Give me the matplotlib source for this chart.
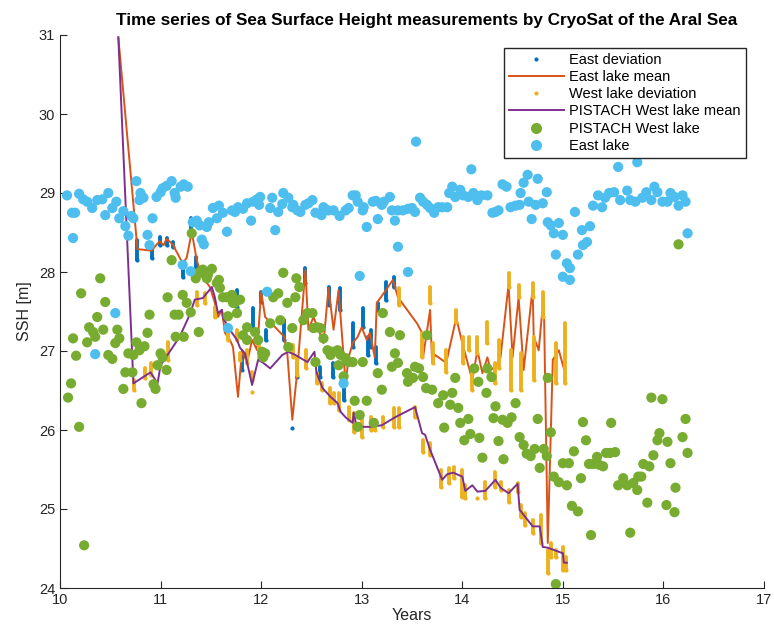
import matplotlib
matplotlib.use("Agg")
import matplotlib.pyplot as plt
from matplotlib.lines import Line2D

plt.rcParams['font.family'] = ['Liberation Sans', 'DejaVu Sans']

# ---------------- data ----------------
east_mean_t = [10.58, 10.77, 10.91, 10.99, 11.03, 11.06, 11.12, 11.22, 11.26, 11.31, 11.36, 11.41,
               11.44, 11.49, 11.54, 11.57, 11.61, 11.64, 11.69, 11.72, 11.77, 11.81, 11.86, 11.91,
               11.96, 12.00, 12.04, 12.07, 12.14, 12.23, 12.26, 12.31, 12.36, 12.44, 12.47, 12.52,
               12.57, 12.62, 12.67, 12.72, 12.77, 12.84, 12.87, 12.91, 12.96, 13.00, 13.05, 13.08,
               13.13, 13.15, 13.23, 13.31, 13.36, 13.55, 13.60, 13.61, 13.68, 13.70, 13.73, 13.84,
               13.94, 14.00, 14.10, 14.15, 14.20, 14.25, 14.28, 14.33, 14.38, 14.46, 14.50, 14.56,
               14.61, 14.70, 14.71, 14.76, 14.81, 14.85, 14.90, 14.96, 15.02]
east_mean_h = [30.97, 28.29, 28.27, 28.39, 28.34, 28.42, 28.35, 28.11, 28.18, 28.51, 28.15, 27.94,
               27.90, 27.81, 27.61, 27.43, 27.52, 27.23, 27.14, 27.05, 26.42, 27.01, 26.85, 27.14,
               27.01, 27.75, 27.43, 27.39, 27.30, 27.18, 26.97, 26.13, 26.76, 28.03, 27.27, 27.43,
               27.27, 27.10, 27.80, 27.27, 27.77, 26.59, 26.92, 27.10, 27.18, 27.30, 27.14, 27.23,
               26.92, 27.61, 27.75, 27.90, 27.68, 27.35, 27.23, 26.92, 27.52, 26.85, 26.95, 26.85,
               27.42, 27.10, 26.63, 27.01, 26.72, 26.92, 26.76, 26.80, 26.92, 27.84, 26.92, 27.68,
               26.76, 27.80, 27.18, 27.01, 27.71, 24.57, 26.89, 27.01, 26.73]

west_mean_t = [10.58, 10.73, 10.90, 10.97, 11.00, 11.09, 11.19, 11.29, 11.34, 11.42, 11.51, 11.54,
               11.57, 11.61, 11.62, 11.71, 11.76, 11.79, 11.84, 11.91, 11.97, 12.02, 12.09, 12.21,
               12.27, 12.34, 12.42, 12.46, 12.53, 12.55, 12.61, 12.69, 12.76, 12.79, 12.84, 12.91,
               12.92, 12.95, 13.08, 13.20, 13.33, 13.53, 13.60, 13.63, 13.68, 13.80, 13.85, 13.91,
               14.00, 14.03, 14.10, 14.15, 14.23, 14.33, 14.38, 14.46, 14.55, 14.57, 14.70, 14.77,
               14.80, 14.85, 15.00, 15.01, 15.04]
west_mean_h = [30.97, 26.59, 26.73, 26.59, 26.82, 26.99, 27.18, 27.46, 27.65, 27.67, 27.81, 27.68,
               27.48, 27.52, 27.42, 27.23, 27.14, 27.04, 26.97, 26.57, 26.89, 26.85, 26.78, 26.95,
               26.99, 26.95, 26.89, 26.86, 26.99, 26.73, 26.53, 26.42, 26.34, 26.23, 26.16, 26.09,
               26.22, 26.04, 26.04, 26.06, 26.16, 26.29, 25.96, 25.94, 25.75, 25.37, 25.44, 25.46,
               25.41, 25.23, 25.30, 25.22, 25.23, 25.37, 25.27, 25.20, 25.32, 24.99, 24.78, 24.78,
               24.52, 24.51, 24.44, 24.32, 24.32]

# East deviation: time, low, high
east_dev_t = [10.77, 10.91, 10.99, 11.06, 11.12, 11.22, 11.30, 11.35, 11.76, 11.81, 11.92, 12.00,
              12.05, 12.23, 12.31, 12.36, 12.44, 12.59, 12.67, 12.71, 12.78, 12.82, 12.91, 13.01,
              13.06, 13.09, 13.14, 13.16, 13.24, 13.32]
east_dev_lo = [28.15, 28.18, 28.34, 28.34, 28.32, 27.94, 28.53, 28.06, 27.56, 26.76, 27.27, 27.62,
               27.14, 27.14, 26.03, 26.67, 27.86, 26.67, 27.58, 26.67, 27.52, 26.38, 27.05, 27.30,
               26.95, 27.05, 26.85, 27.52, 27.65, 27.81]
east_dev_hi = [28.41, 28.32, 28.44, 28.43, 28.38, 28.11, 28.68, 28.19, 27.77, 26.97, 27.54, 27.75,
               27.27, 27.39, 26.03, 26.85, 28.05, 26.80, 27.81, 26.85, 27.80, 26.57, 27.35, 27.54,
               27.18, 27.27, 27.05, 27.61, 27.87, 27.94]

# West lake deviation: time, low, high
west_dev_t = [10.74, 10.85, 10.90, 11.07, 11.36, 11.44, 11.54, 11.67, 11.76, 11.79, 11.86, 11.91,
              11.91, 11.98, 12.32, 12.36, 12.45, 12.56, 12.61, 12.68, 12.72, 12.77, 12.87, 12.92,
              13.00, 13.09, 13.13, 13.21, 13.32, 13.37, 13.37, 13.53, 13.60, 13.61, 13.68, 13.68,
              13.71, 13.79, 13.84, 13.87, 13.92, 13.94, 14.00, 14.01, 14.03, 14.07, 14.10, 14.15,
              14.15, 14.23, 14.25, 14.33, 14.33, 14.37, 14.38, 14.46, 14.46, 14.48, 14.55, 14.56,
              14.58, 14.58, 14.62, 14.70, 14.70, 14.71, 14.78, 14.80, 14.85, 14.88, 14.93, 14.93,
              15.00, 15.03, 15.02]
west_dev_lo = [26.51, 26.66, 26.70, 26.89, 27.58, 27.61, 27.43, 27.14, 27.14, 26.89, 26.85, 26.63,
               26.48, 26.92, 26.92, 26.70, 26.78, 26.59, 26.51, 26.34, 26.34, 26.25, 26.13, 25.97,
               25.91, 26.00, 26.00, 26.04, 26.04, 26.04, 27.58, 26.16, 26.92, 25.72, 25.68, 27.61,
               26.85, 25.28, 26.73, 25.33, 25.39, 27.37, 25.15, 26.85, 25.14, 27.01, 26.51, 26.97,
               25.14, 25.14, 27.10, 26.59, 25.28, 26.78, 25.24, 27.81, 25.09, 26.51, 25.22, 27.68,
               26.51, 24.90, 24.80, 27.68, 24.70, 26.63, 24.57, 27.43, 24.19, 24.39, 24.39, 26.59,
               24.23, 24.23, 26.59]
west_dev_hi = [26.63, 26.78, 26.85, 27.11, 27.75, 27.73, 27.56, 27.23, 27.27, 26.97, 27.01, 26.73,
               26.48, 27.14, 27.08, 26.92, 27.01, 26.72, 26.59, 26.53, 26.47, 26.47, 26.29, 26.22,
               26.16, 26.16, 26.13, 26.16, 26.28, 26.28, 27.80, 26.29, 27.23, 25.87, 25.84, 27.81,
               27.10, 25.49, 27.01, 25.52, 25.53, 27.52, 25.49, 27.18, 25.30, 27.18, 26.72, 27.18,
               25.14, 25.34, 27.37, 26.85, 25.47, 27.14, 25.34, 27.99, 25.24, 27.01, 25.33, 27.84,
               26.97, 25.05, 24.95, 27.86, 24.86, 27.18, 24.92, 27.75, 24.48, 24.57, 24.48, 27.10,
               24.52, 24.39, 27.35]

# PISTACH West lake points
west_pts_t = [10.08, 10.11, 10.13, 10.16, 10.19, 10.24, 10.21, 10.27, 10.29, 10.33, 10.35, 10.37,
              10.40, 10.43, 10.45, 10.48, 10.52, 10.55, 10.57, 10.59, 10.63, 10.65, 10.68, 10.72,
              10.73, 10.76, 10.79, 10.81, 10.84, 10.87, 10.89, 10.93, 10.95, 10.97, 11.00, 11.02,
              11.06, 11.07, 11.11, 11.14, 11.18, 11.15, 11.23, 11.22, 11.26, 11.30, 11.31, 11.35,
              11.38, 11.39, 11.42, 11.46, 11.47, 11.51, 11.56, 11.58, 11.59, 11.62, 11.66, 11.69,
              11.71, 11.72, 11.74, 11.76, 11.79, 11.67, 11.82, 11.86, 11.86, 11.94, 11.97, 12.01,
              12.04, 12.02, 12.09, 12.12, 12.17, 12.19, 12.22, 12.26, 12.27, 12.31, 12.34, 12.35,
              12.38, 12.42, 12.46, 12.51, 12.52, 12.56, 12.59, 12.62, 12.54, 12.66, 12.71, 12.76,
              12.69, 12.79, 12.84, 12.87, 12.91, 13.01, 12.77, 12.82, 12.93, 13.05, 12.98, 12.96,
              13.12, 13.16, 13.20, 13.21, 13.28, 13.38, 13.33, 13.36, 13.30, 13.45, 13.53, 13.57,
              13.51, 13.46, 13.61, 13.64, 13.70, 13.65, 13.76, 13.81, 13.88, 13.90, 13.93, 13.96,
              13.82, 13.98, 14.06, 14.02, 14.08, 14.17, 14.12, 14.16, 14.25, 14.29, 14.24, 14.33,
              14.31, 14.40, 14.45, 14.49, 14.53, 14.36, 14.57, 14.61, 14.20, 14.41, 14.64, 14.68,
              14.72, 14.75, 14.81, 14.84, 14.77, 14.85, 14.88, 14.91, 14.96, 15.04, 15.00, 15.06,
              15.09, 15.15, 15.11, 15.18, 15.20, 15.23, 15.28, 15.26, 15.30, 15.34, 15.36, 15.40,
              15.43, 15.47, 15.52, 15.48, 15.55, 15.60, 15.64, 15.70, 15.74, 15.67, 15.75, 15.78,
              15.80, 15.86, 15.84, 15.90, 15.94, 15.96, 16.04, 16.07, 16.12, 16.03, 16.11, 15.88,
              15.99, 16.19, 16.22, 16.24, 14.93, 16.15]
west_pts_h = [26.41, 26.59, 27.16, 26.94, 26.04, 24.54, 27.73, 27.11, 27.30, 27.24, 27.18, 27.43,
              27.92, 27.27, 27.62, 26.95, 26.90, 27.10, 27.27, 27.16, 26.52, 26.73, 26.97, 26.73,
              26.95, 27.11, 27.01, 26.34, 27.06, 27.23, 27.46, 26.58, 26.52, 26.82, 26.97, 26.92,
              26.76, 27.68, 28.15, 27.46, 27.46, 27.18, 27.18, 27.71, 27.61, 27.49, 28.49, 27.92,
              27.24, 28.00, 28.03, 27.92, 27.96, 28.04, 27.86, 27.90, 27.80, 27.68, 27.68, 27.68,
              27.71, 27.61, 27.61, 27.48, 27.65, 27.44, 27.20, 27.14, 27.30, 27.24, 27.14, 26.99,
              26.97, 26.92, 27.35, 27.68, 27.73, 27.39, 27.99, 27.61, 27.05, 27.29, 27.68, 27.92,
              27.81, 27.39, 27.48, 27.48, 27.29, 27.30, 27.29, 27.16, 26.86, 27.01, 26.99, 27.01,
              26.95, 26.95, 26.91, 26.86, 26.86, 26.86, 26.82, 26.68, 26.37, 26.37, 26.19, 26.04,
              26.09, 26.72, 26.51, 27.48, 27.24, 27.20, 26.97, 26.85, 26.80, 26.72, 26.80, 26.78,
              26.66, 26.61, 26.67, 26.53, 26.51, 27.20, 26.34, 26.44, 26.32, 26.47, 26.66, 26.28,
              26.03, 26.09, 26.14, 25.87, 25.95, 25.90, 26.78, 26.61, 26.78, 26.67, 26.47, 26.30,
              26.15, 26.13, 26.09, 26.16, 26.34, 25.86, 25.91, 25.81, 25.65, 25.63, 25.70, 25.67,
              25.76, 26.14, 25.76, 25.67, 25.52, 26.66, 25.97, 25.41, 25.34, 25.30, 25.58, 25.58,
              25.04, 24.97, 25.73, 25.39, 26.10, 25.87, 24.67, 25.57, 25.57, 25.66, 25.56, 25.54,
              25.71, 25.71, 25.72, 26.09, 25.30, 25.39, 25.30, 25.33, 25.24, 24.70, 25.41, 25.41,
              25.57, 25.54, 25.08, 25.68, 25.87, 25.96, 25.85, 25.58, 25.27, 25.05, 24.96, 26.41,
              26.39, 25.91, 26.14, 25.71, 24.05, 28.35]

# East lake points
east_pts_t = [10.07, 10.12, 10.15, 10.13, 10.19, 10.23, 10.27, 10.32, 10.37, 10.42, 10.45, 10.48,
              10.52, 10.56, 10.59, 10.63, 10.65, 10.68, 10.71, 10.73, 10.76, 10.80, 10.79, 10.83,
              10.87, 10.89, 10.92, 10.96, 11.00, 11.02, 11.06, 11.11, 11.14, 11.15, 11.20, 11.23,
              11.27, 11.32, 11.36, 11.39, 11.41, 11.43, 11.46, 11.48, 11.52, 11.56, 11.58, 11.62,
              11.66, 11.71, 11.74, 11.77, 11.82, 11.86, 11.90, 11.92, 11.96, 11.99, 11.98, 12.09,
              12.11, 12.14, 12.17, 12.21, 12.22, 12.27, 12.32, 12.36, 12.31, 12.39, 12.44, 12.47,
              12.51, 12.54, 12.60, 12.62, 12.67, 12.72, 12.78, 12.84, 12.87, 12.91, 12.94, 12.96,
              13.01, 13.02, 13.05, 13.11, 13.14, 13.16, 13.20, 13.22, 13.28, 13.30, 13.33, 13.36,
              13.41, 13.46, 13.50, 13.53, 13.54, 13.36, 13.46, 12.98, 13.58, 13.61, 13.65, 13.68,
              13.72, 13.76, 13.80, 13.85, 13.90, 13.87, 13.93, 13.98, 14.01, 14.06, 14.11, 14.15,
              14.19, 14.25, 14.09, 14.30, 14.33, 14.36, 14.40, 14.44, 14.48, 14.53, 14.57, 14.58,
              14.61, 14.65, 14.66, 14.69, 14.75, 14.73, 14.80, 14.84, 14.85, 14.88, 14.91, 14.96,
              15.00, 14.93, 15.04, 15.07, 15.00, 15.07, 15.15, 15.20, 15.24, 15.19, 15.27, 15.12,
              15.30, 15.35, 15.39, 15.42, 15.46, 15.51, 15.55, 15.57, 15.64, 15.67, 15.72, 15.74,
              15.79, 15.83, 15.88, 15.91, 15.94, 15.99, 16.04, 16.07, 16.11, 16.15, 16.19, 16.22,
              16.24, 10.55, 10.35, 11.22, 11.30, 12.06, 11.67, 12.82]
east_pts_h = [28.97, 28.75, 28.75, 28.43, 28.99, 28.92, 28.89, 28.81, 28.91, 28.92, 28.72, 29.00,
              28.81, 28.89, 28.68, 28.77, 28.58, 28.46, 28.71, 28.68, 29.15, 29.00, 28.91, 28.94,
              28.47, 28.34, 28.68, 28.95, 29.01, 29.06, 29.09, 29.15, 29.00, 28.94, 29.08, 29.11,
              29.08, 28.63, 28.65, 28.59, 28.41, 28.35, 28.57, 28.63, 28.81, 28.68, 28.84, 28.75,
              28.51, 28.78, 28.76, 28.82, 28.80, 28.87, 28.65, 28.89, 28.92, 28.95, 28.85, 28.81,
              28.94, 28.53, 28.76, 28.86, 29.00, 28.94, 28.85, 28.78, 28.82, 28.76, 28.85, 28.87,
              28.91, 28.75, 28.72, 28.82, 28.78, 28.78, 28.71, 28.78, 28.81, 28.97, 28.97, 28.89,
              28.78, 28.82, 28.57, 28.89, 28.90, 28.67, 28.85, 28.89, 28.95, 28.78, 28.65, 28.78,
              28.78, 28.80, 28.81, 28.76, 29.65, 28.32, 28.00, 27.95, 28.94, 28.89, 28.85, 28.81,
              28.75, 28.82, 28.82, 28.82, 29.08, 29.00, 28.95, 29.04, 28.97, 28.95, 29.00, 28.91,
              28.97, 28.97, 29.30, 28.75, 28.76, 28.78, 29.11, 29.08, 28.82, 28.84, 28.85, 29.00,
              29.13, 29.23, 28.89, 28.67, 29.18, 28.85, 28.87, 29.01, 28.63, 28.59, 28.49, 28.62,
              28.47, 28.22, 28.11, 28.05, 27.94, 27.90, 28.22, 28.34, 28.38, 28.53, 28.58, 28.76,
              28.84, 28.97, 28.82, 28.94, 29.00, 29.01, 29.33, 28.91, 29.03, 28.91, 28.89, 29.39,
              28.94, 29.01, 28.91, 29.08, 29.01, 28.89, 28.89, 29.00, 28.95, 28.84, 28.97, 28.89,
              28.49, 27.48, 26.96, 28.09, 28.01, 27.75, 27.29, 26.59]

x_ticks = [10, 11, 12, 13, 14, 15, 16, 17]
y_ticks = [24, 25, 26, 27, 28, 29, 30, 31]

c_edev = '#0072BD'
c_emean = '#D95319'
c_wdev = '#EDB120'
c_wmean = '#7E2F8E'
c_wpts = '#77AC30'
c_epts = '#4DBEEE'

# ---------------- plot ----------------
fig = plt.figure(figsize=(7.74, 6.37), dpi=100)
ax = fig.add_axes([60/774, 1-588/637, 704/774, 553/637])

ax.vlines(east_dev_t, east_dev_lo, east_dev_hi, color=c_edev, lw=2.8, capstyle='round', zorder=2)
ax.plot(east_dev_t, east_dev_lo, '.', color=c_edev, ms=4, zorder=2)
ax.plot(east_mean_t, east_mean_h, '-', color=c_emean, lw=1.4, zorder=3)
ax.vlines(west_dev_t, west_dev_lo, west_dev_hi, color=c_wdev, lw=2.8, capstyle='round', zorder=4)
ax.plot(west_dev_t, west_dev_lo, '.', color=c_wdev, ms=4, zorder=4)
ax.plot(west_mean_t, west_mean_h, '-', color=c_wmean, lw=1.4, zorder=5)
ax.scatter(west_pts_t, west_pts_h, s=54, color=c_wpts, edgecolors='none', zorder=6)
ax.scatter(east_pts_t, east_pts_h, s=54, color=c_epts, edgecolors='none', zorder=7)

ax.set_xlim(10, 17)
ax.set_ylim(24, 31)
ax.set_xticks(x_ticks)
ax.set_yticks(y_ticks)
ax.tick_params(direction='in', length=5, width=0.8, labelsize=10.5, colors='#262626')
for s in ['top', 'right']:
    ax.spines[s].set_visible(False)
for s in ['left', 'bottom']:
    ax.spines[s].set_color('#262626')
    ax.spines[s].set_linewidth(0.8)

ax.set_xlabel('Years', fontsize=11.5, color='#262626', labelpad=1)
ax.set_ylabel('SSH [m]', fontsize=11.5, color='#262626', labelpad=5)
ax.set_title('Time series of Sea Surface Height measurements by CryoSat of the Aral Sea',
             fontsize=12.3, fontweight='bold', pad=7, x=0.5206)

handles = [
    Line2D([], [], ls='none', marker='.', ms=4, color=c_edev),
    Line2D([], [], ls='-', lw=1.4, color=c_emean),
    Line2D([], [], ls='none', marker='.', ms=4, color=c_wdev),
    Line2D([], [], ls='-', lw=1.4, color=c_wmean),
    Line2D([], [], ls='none', marker='o', ms=8, color=c_wpts, mec='none'),
    Line2D([], [], ls='none', marker='o', ms=8, color=c_epts, mec='none'),
]
labels = ['East deviation', 'East lake mean', 'West lake deviation',
          'PISTACH West lake mean', 'PISTACH West lake', 'East lake']
leg = ax.legend(handles, labels, loc='upper left', bbox_to_anchor=(0.63, 0.977),
                fontsize=10.5, frameon=True, fancybox=False, edgecolor='#262626',
                framealpha=1, handlelength=3.8, handletextpad=0.35, labelspacing=0.22,
                borderpad=0.35, borderaxespad=0)
leg.get_frame().set_linewidth(1.0)
leg.set_zorder(10)

fig.savefig('out.png', dpi=100)
